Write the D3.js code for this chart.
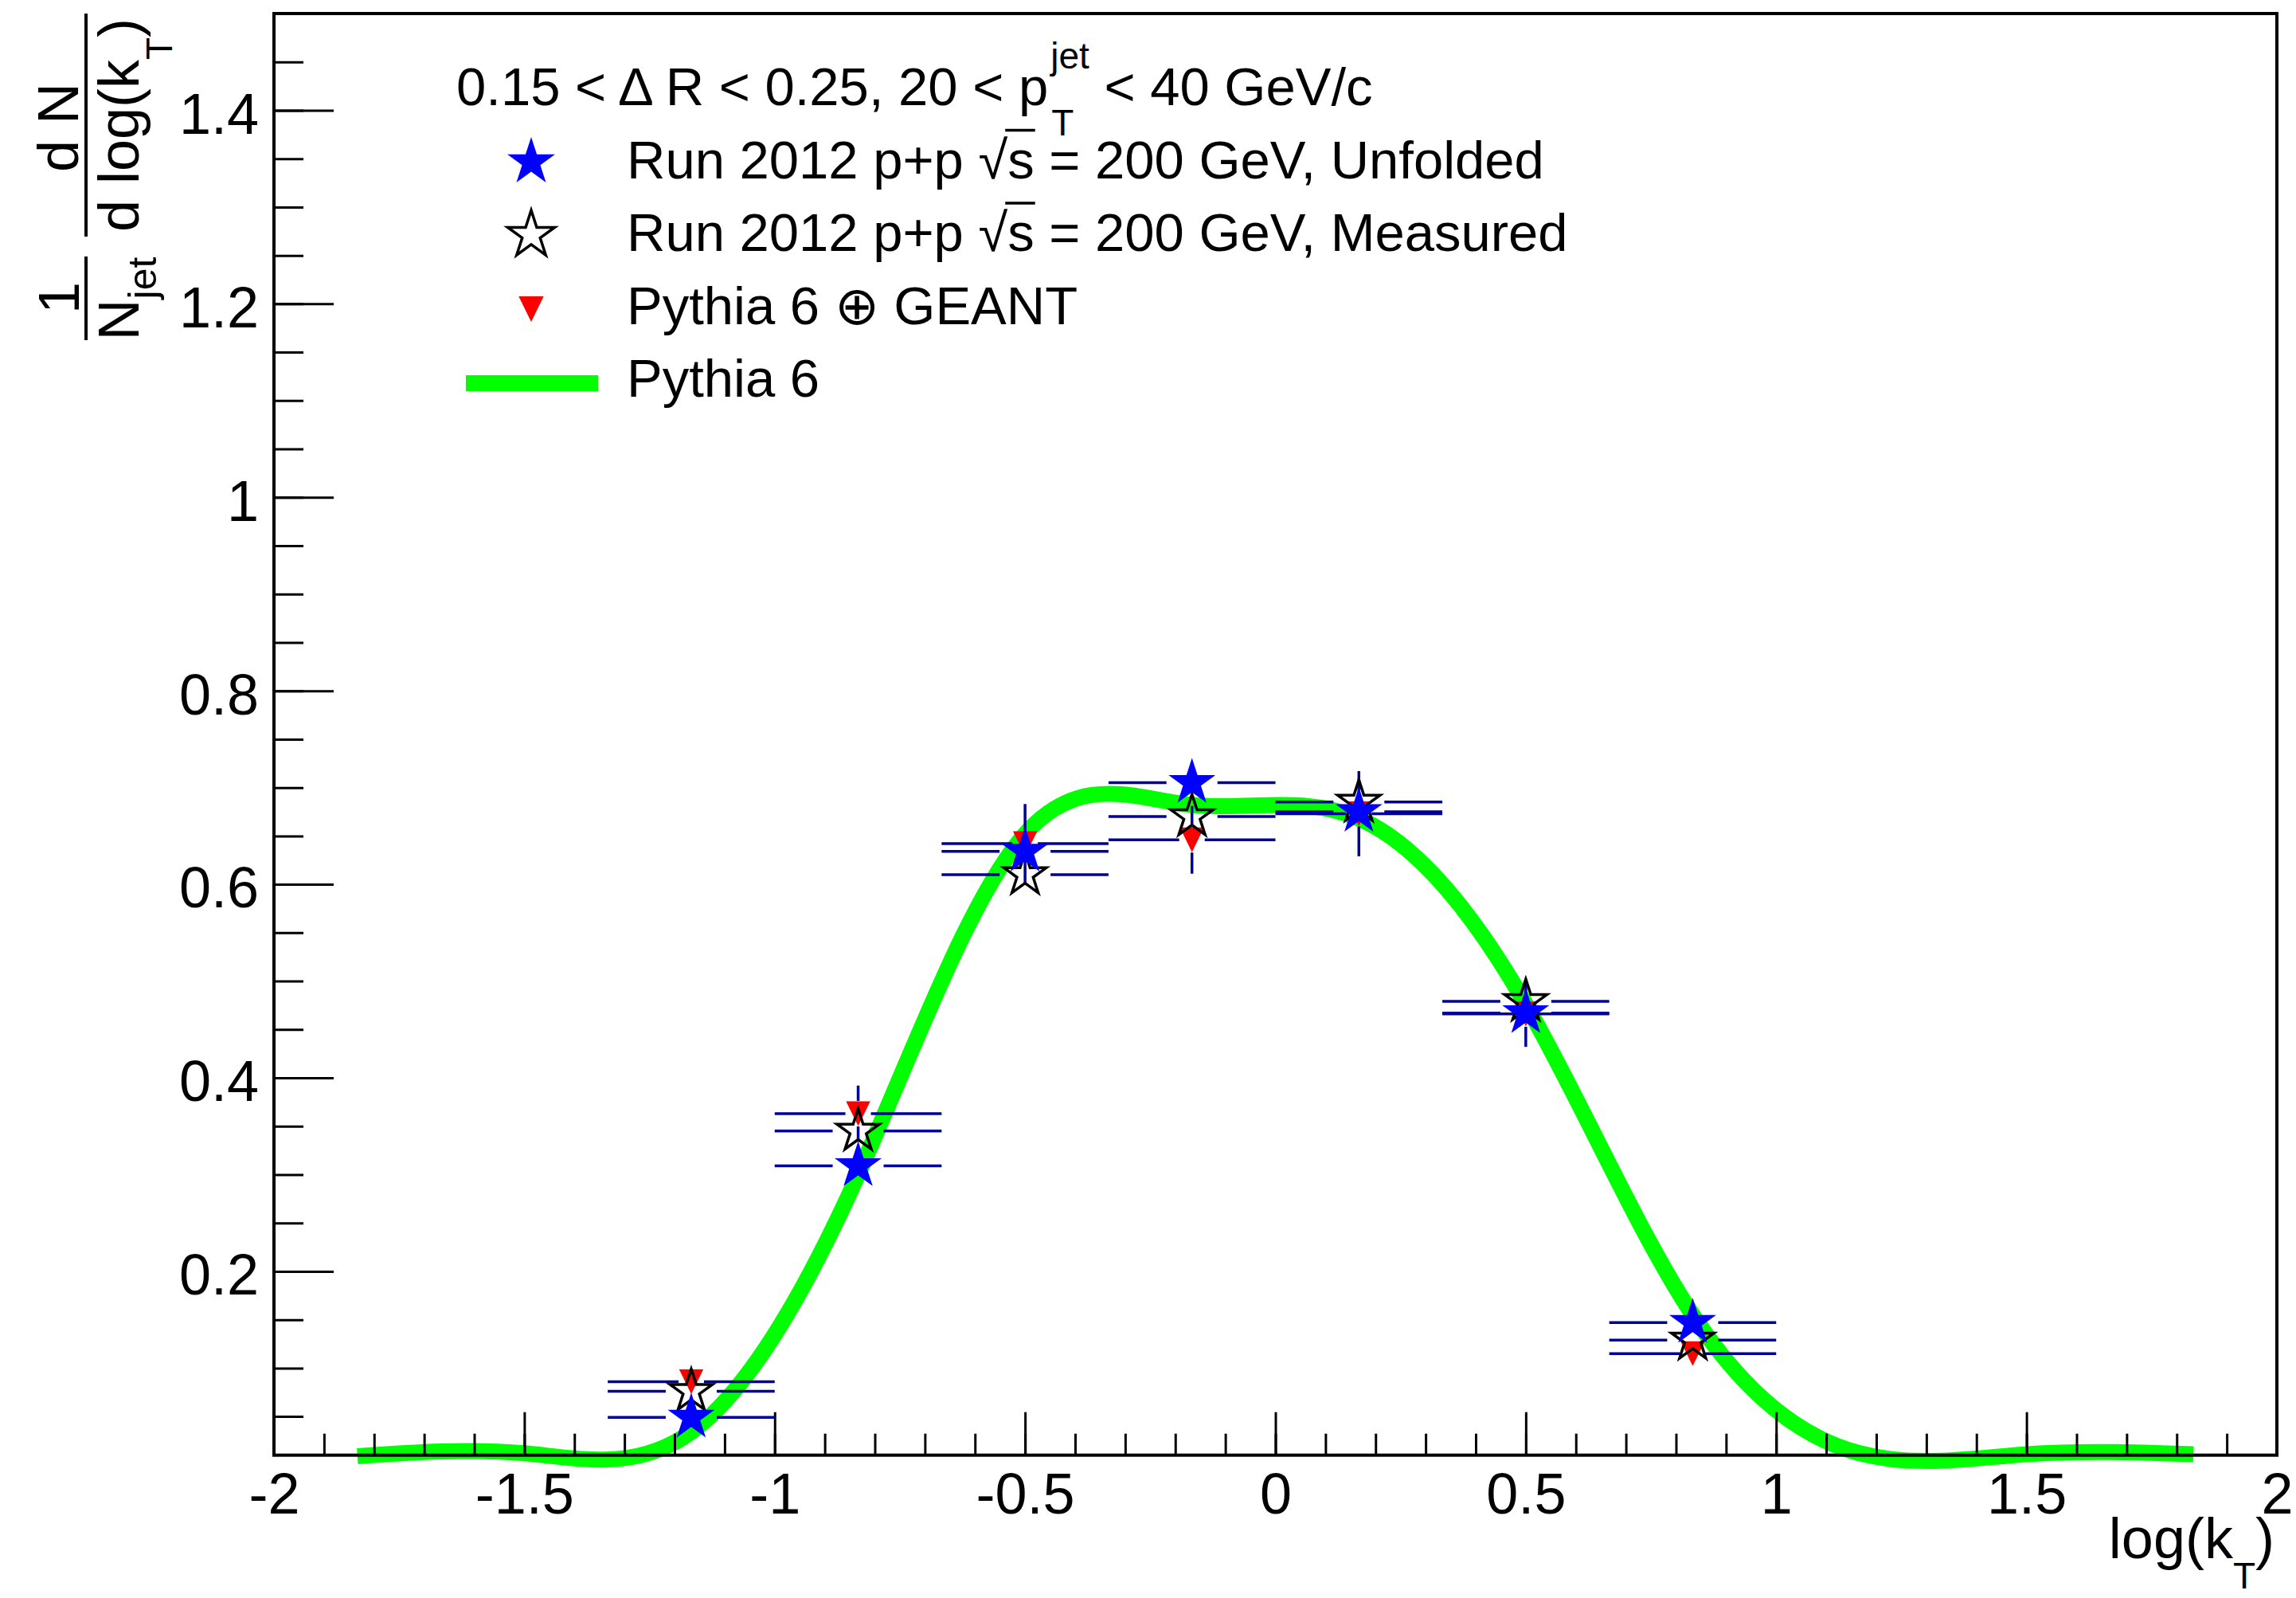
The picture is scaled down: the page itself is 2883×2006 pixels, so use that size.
<!DOCTYPE html>
<html>
<head>
<meta charset="utf-8">
<script src="https://cdn.jsdelivr.net/npm/d3@7"></script>
<style>
  body { margin: 0; background: #fff; }
  text { font-family: "Liberation Sans", Arial, Helvetica, sans-serif; fill: #000; }
</style>
</head>
<body>
<svg id="chart"></svg>
<script>
// ---- data ----
var binEdges = [-4/3, -1, -2/3, -1/3, 0, 1/3, 2/3, 1];
var binCenters = [-7/6, -5/6, -1/2, -1/6, 1/6, 1/2, 5/6];

var unfolded    = [0.049, 0.309, 0.634, 0.705, 0.675, 0.467, 0.147];
var measured    = [0.076, 0.345, 0.610, 0.670, 0.685, 0.479, 0.129];
var pythiaGeant = [0.086, 0.363, 0.642, 0.646, 0.673, 0.466, 0.115];
var pythiaGeantErr = [0.008, 0.029, 0.041, 0.035, 0.044, 0.034, 0.010];

// Pythia 6 curve (smoothed histogram, nodes at bin centres)
var pythiaX = [-11/6, -1.5, -7/6, -5/6, -0.5, -1/6, 1/6, 0.5, 5/6, 7/6, 1.5, 11/6];
var pythiaY = [0.009, 0.012, 0.034, 0.300, 0.652, 0.682, 0.668, 0.476, 0.155, 0.012, 0.011, 0.011];

var xMajor = [-2, -1.5, -1, -0.5, 0, 0.5, 1, 1.5, 2];
var yMajor = [0.2, 0.4, 0.6, 0.8, 1, 1.2, 1.4];
var xMinor = d3.range(-20, 21).map(function (i) { return i / 10; });
var yMinor = d3.range(1, 30).map(function (i) { return i / 20; });

var legendLabels = [
  "Run 2012 p+p \u221As = 200 GeV, Unfolded",
  "Run 2012 p+p \u221As = 200 GeV, Measured",
  "Pythia 6 \u2295 GEANT",
  "Pythia 6"
];

// ---- canvas ----
var W = 2883, H = 2006;
var svg = d3.select("#chart").attr("width", W).attr("height", H);
svg.append("rect").attr("width", W).attr("height", H).attr("fill", "#fff");

var x = d3.scaleLinear().domain([-2, 2]).range([344, 2859]);
var y = d3.scaleLinear().domain([0.01, 1.5]).range([1826.7, 17]);

var NAVY = "#000099";

// Pythia 6 curve (under everything)
var line = d3.line()
  .x(function (d) { return x(d[0]); })
  .y(function (d) { return y(d[1]); })
  .curve(d3.curveNatural);

svg.append("path")
  .datum(d3.zip(pythiaX, pythiaY))
  .attr("d", line)
  .attr("fill", "none")
  .attr("stroke", "#00ff00")
  .attr("stroke-width", 20);

// ---- axes ----
function styleAxis(g, fs) {
  g.select(".domain").remove();
  g.selectAll(".tick line").attr("stroke", "#000").attr("stroke-width", 3);
  g.selectAll(".tick text").attr("font-size", fs).attr("font-family", null).attr("fill", "#000");
}

var xAxisG = svg.append("g").attr("transform", "translate(0," + y(0.01) + ")");
xAxisG.append("g")
  .call(d3.axisBottom(x).tickValues(xMinor).tickSize(-27).tickSizeOuter(0).tickFormat(""))
  .call(styleAxis, 72);
xAxisG.append("g")
  .call(d3.axisBottom(x).tickValues(xMajor).tickSize(-54).tickSizeOuter(0).tickPadding(22)
    .tickFormat(function (d) { return String(d); }))
  .call(styleAxis, 72);

var yAxisG = svg.append("g").attr("transform", "translate(" + x(-2) + ",0)");
yAxisG.append("g")
  .call(d3.axisLeft(y).tickValues(yMinor).tickSize(-37).tickSizeOuter(0).tickFormat(""))
  .call(styleAxis, 72);
yAxisG.append("g")
  .call(d3.axisLeft(y).tickValues(yMajor).tickSize(-75).tickSizeOuter(0).tickPadding(19)
    .tickFormat(function (d) { return String(d); }))
  .call(styleAxis, 72);
yAxisG.selectAll(".tick text").attr("dy", "0.40em");

// frame
svg.append("rect")
  .attr("x", x(-2)).attr("y", y(1.5))
  .attr("width", x(2) - x(-2)).attr("height", y(0.01) - y(1.5))
  .attr("fill", "none").attr("stroke", "#000").attr("stroke-width", 4);

// ---- error bars ----
var series = [
  { vals: pythiaGeant, err: pythiaGeantErr, gap: 16 },
  { vals: measured, err: null, gap: 32 },
  { vals: unfolded, err: null, gap: 32 }
];

var errG = svg.append("g").attr("stroke", NAVY).attr("stroke-width", 3.5);
series.forEach(function (s) {
  s.vals.forEach(function (v, i) {
    var cx = x(binCenters[i]), cy = y(v);
    errG.append("line").attr("x1", x(binEdges[i])).attr("x2", cx - s.gap).attr("y1", cy).attr("y2", cy);
    errG.append("line").attr("x1", cx + s.gap).attr("x2", x(binEdges[i + 1])).attr("y1", cy).attr("y2", cy);
    if (s.err) {
      var top = y(v + s.err[i]), bot = y(v - s.err[i]);
      if (cy - top > s.gap) errG.append("line").attr("x1", cx).attr("x2", cx).attr("y1", top).attr("y2", cy - s.gap);
      if (bot - cy > s.gap) errG.append("line").attr("x1", cx).attr("x2", cx).attr("y1", cy + s.gap).attr("y2", bot);
    }
  });
});

// ---- markers ----
var triDown = {
  draw: function (ctx, size) {
    var s = Math.sqrt(size);
    ctx.moveTo(-s * 0.49, -s / 2);
    ctx.lineTo(s * 0.49, -s / 2);
    ctx.lineTo(0, s / 2);
    ctx.closePath();
  }
};
function starSize(r) { return r * r / 0.8908130915292852; }

var triPath = d3.symbol(triDown, 31 * 31)();
var fullStar = d3.symbol(d3.symbolStar, starSize(31))();
var openStar = d3.symbol(d3.symbolStar, starSize(28))();

svg.append("g").selectAll("path").data(pythiaGeant).enter().append("path")
  .attr("d", triPath)
  .attr("transform", function (d, i) { return "translate(" + x(binCenters[i]) + "," + y(d) + ")"; })
  .attr("fill", "#ff0000");

svg.append("g").selectAll("path").data(measured).enter().append("path")
  .attr("d", openStar)
  .attr("transform", function (d, i) { return "translate(" + x(binCenters[i]) + "," + y(d) + ")"; })
  .attr("fill", "none").attr("stroke", "#000").attr("stroke-width", 3.5);

svg.append("g").selectAll("path").data(unfolded).enter().append("path")
  .attr("d", fullStar)
  .attr("transform", function (d, i) { return "translate(" + x(binCenters[i]) + "," + y(d) + ")"; })
  .attr("fill", "#0000ff");

// ---- legend ----
var legFs = 67;
var hdr = svg.append("g");
var h1 = hdr.append("text").attr("x", 573).attr("y", 132).attr("font-size", legFs)
  .text("0.15 < \u0394 R < 0.25, 20 < p");
var hx = 573 + h1.node().getComputedTextLength() + 3;
var sup = hdr.append("text").attr("x", hx).attr("y", 86).attr("font-size", 46).text("jet");
hdr.append("text").attr("x", hx + 1).attr("y", 170).attr("font-size", 46).text("T");
hdr.append("text").attr("x", hx + sup.node().getComputedTextLength()).attr("y", 132)
  .attr("font-size", legFs).text("\u00a0< 40 GeV/c");

var rowY = [223.5, 315, 406.5, 498];
var textX = 787, markX = 667;
legendLabels.forEach(function (lab, i) {
  var t = svg.append("text").attr("x", textX).attr("y", rowY[i]).attr("font-size", legFs).text(lab);
  var k = lab.indexOf("\u221A");
  if (k >= 0) {
    var n = t.node();
    var s0 = textX + n.getSubStringLength(0, k + 1);
    var s1 = textX + n.getSubStringLength(0, k + 2);
    svg.append("line").attr("x1", s0 - 3).attr("x2", s1 + 1)
      .attr("y1", rowY[i] - 60).attr("y2", rowY[i] - 60)
      .attr("stroke", "#000").attr("stroke-width", 3.5);
  }
});

svg.append("path").attr("d", d3.symbol(d3.symbolStar, starSize(31.5))())
  .attr("transform", "translate(" + markX + "," + (rowY[0] - 20) + ")").attr("fill", "#0000ff");
svg.append("path").attr("d", d3.symbol(d3.symbolStar, starSize(31))())
  .attr("transform", "translate(" + markX + "," + (rowY[1] - 20) + ")")
  .attr("fill", "none").attr("stroke", "#000").attr("stroke-width", 3.5);
svg.append("path").attr("d", d3.symbol(triDown, 32 * 32)())
  .attr("transform", "translate(" + markX + "," + (rowY[2] - 18.5) + ")").attr("fill", "#ff0000");
svg.append("line").attr("x1", 585).attr("x2", 751)
  .attr("y1", rowY[3] - 17).attr("y2", rowY[3] - 17)
  .attr("stroke", "#00ff00").attr("stroke-width", 20);

// ---- axis titles ----
var xt = svg.append("text").attr("x", 2856).attr("y", 1956).attr("font-size", 72)
  .attr("text-anchor", "end");
xt.append("tspan").text("log(k");
xt.append("tspan").attr("font-size", 46).attr("dy", 38).text("T");
xt.append("tspan").attr("dy", -38).text(")");

// rotated y title: 1/N_jet  dN / d log(k_T)
var yt = svg.append("g").attr("transform", "translate(108,0) rotate(-90)");
yt.append("line").attr("x1", -427).attr("x2", -322).attr("y1", 0).attr("y2", 0)
  .attr("stroke", "#000").attr("stroke-width", 4);
yt.append("text").attr("x", -374).attr("y", -9).attr("font-size", 72)
  .attr("text-anchor", "middle").text("1");
var nj = yt.append("text").attr("x", -375).attr("y", 66).attr("font-size", 72)
  .attr("text-anchor", "middle");
nj.append("tspan").text("N");
nj.append("tspan").attr("font-size", 50).attr("dy", 22).text("jet");

yt.append("line").attr("x1", -297).attr("x2", -17).attr("y1", 0).attr("y2", 0)
  .attr("stroke", "#000").attr("stroke-width", 4);
yt.append("text").attr("x", -160).attr("y", -10).attr("font-size", 72)
  .attr("text-anchor", "middle").text("d N");
var dl = yt.append("text").attr("x", -157).attr("y", 66).attr("font-size", 72)
  .attr("text-anchor", "middle");
dl.append("tspan").text("d log(k");
dl.append("tspan").attr("font-size", 46).attr("dy", 42).text("T");
dl.append("tspan").attr("dy", -42).text(")");
</script>
</body>
</html>
